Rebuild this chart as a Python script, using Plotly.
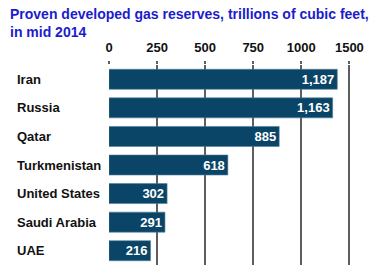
import plotly.graph_objects as go

countries = ["Iran", "Russia", "Qatar", "Turkmenistan", "United States", "Saudi Arabia", "UAE"]
reserves = [1187, 1163, 885, 618, 302, 291, 216]
tick_vals = [0, 250, 500, 750, 1000, 1250]
tick_text = ["0", "250", "500", "750", "1000", "1500"]
title_lines = ["Proven developed gas reserves, trillions of cubic feet,", "in mid 2014"]

FONT = "Liberation Sans, Arial, sans-serif"
BAR = "#0a4466"
GRID = "#5e5e5e"

fig = go.Figure()
fig.add_trace(go.Bar(
    x=reserves, y=countries, orientation="h",
    marker=dict(color=BAR, line=dict(color="#4f7f9c", width=0.6)),
    texttemplate="%{x:,}", textposition="inside", insidetextanchor="end",
    textfont=dict(family=FONT, size=13, color="white", weight="bold"),
    constraintext="none", hoverinfo="skip",
))

annotations = []
for c in countries:
    annotations.append(dict(
        x=-0.376, xref="paper", y=c, yref="y", xanchor="left", yanchor="middle",
        text=c, showarrow=False,
        font=dict(family=FONT, size=13, color="#111111", weight="bold"),
    ))
for i, line in enumerate(title_lines):
    annotations.append(dict(
        x=-0.404, xref="paper", y=1 + (51 - 18 * i) / 200, yref="paper",
        xanchor="left", yanchor="middle", text=line, showarrow=False,
        font=dict(family=FONT, size=14, color="#1c1ccc", weight="bold"),
    ))

fig.update_layout(
    width=386, height=275,
    margin=dict(l=109, r=27, t=65, b=10),
    paper_bgcolor="white", plot_bgcolor="white",
    showlegend=False, bargap=0.3,
    annotations=annotations,
    xaxis=dict(side="top", range=[0, 1300], tickvals=tick_vals, ticktext=tick_text,
               showgrid=True, gridcolor=GRID, gridwidth=1.5, zeroline=False,
               showline=False, ticks="outside", ticklen=3, tickcolor=GRID, tickwidth=1.5,
               ticklabelstandoff=4,
               tickfont=dict(family=FONT, size=13, color="#111111", weight="bold"),
               fixedrange=True),
    yaxis=dict(range=[6.5, -0.5], showticklabels=False, showgrid=False,
               zeroline=False, showline=False, fixedrange=True),
)

fig.write_html("out.html", config={"displayModeBar": False},
               post_script="document.body.style.margin='0';")
